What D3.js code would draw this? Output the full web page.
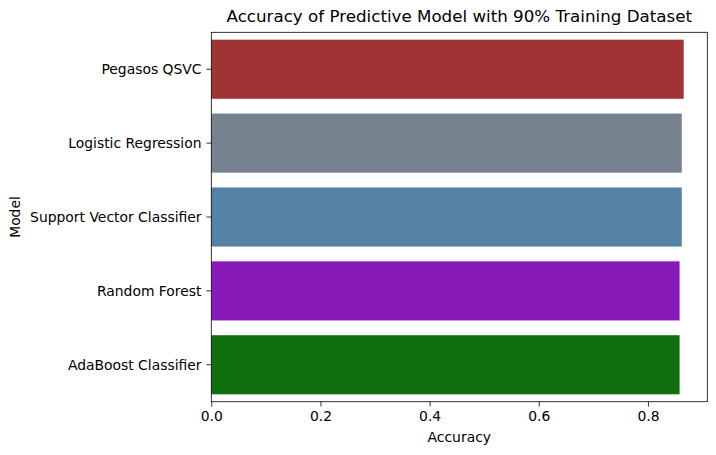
<!DOCTYPE html>
<html><head><meta charset="utf-8">
<script src="https://cdn.jsdelivr.net/npm/d3@7"></script>
<style>body{margin:0;background:#fff}svg{display:block}text{font-family:"DejaVu Sans",sans-serif;fill:#000}</style>
</head><body>
<svg id="c" width="716" height="455"></svg>
<script>
const models = ["Pegasos QSVC","Logistic Regression","Support Vector Classifier","Random Forest","AdaBoost Classifier"];
const accuracy = [0.8655,0.862,0.862,0.858,0.858];
const colors = ["#a03434","#76828e","#5481a6","#891ab9","#107010"];
const xTicks = [0,0.2,0.4,0.6,0.8];

const svg = d3.select("#c");
const m = {l:211.3, r:707.3, t:32.3, b:401.7};
const x = d3.scaleLinear().domain([0, d3.max(accuracy)*1.05]).range([m.l, m.r]);
const y = d3.scaleBand().domain(models).range([m.t, m.b]).paddingInner(0.2).paddingOuter(0.1);

svg.selectAll("rect.bar").data(models).enter().append("rect")
  .attr("class","bar")
  .attr("x", x(0)).attr("y", d=>y(d))
  .attr("width", (d,i)=>x(accuracy[i])-x(0))
  .attr("height", y.bandwidth())
  .attr("fill", (d,i)=>colors[i]);

const xa = svg.append("g").attr("transform",`translate(0,${m.b})`)
  .call(d3.axisBottom(x).tickValues(xTicks).tickFormat(d3.format(".1f")).tickSize(4.9).tickPadding(4.2));
const ya = svg.append("g").attr("transform",`translate(${m.l},0)`)
  .call(d3.axisLeft(y).tickSize(4.9).tickPadding(4.9));
[xa,ya].forEach(a=>{
  a.select(".domain").remove();
  a.selectAll("line").attr("stroke","#000").attr("stroke-width",0.8);
  a.selectAll("text").attr("font-size","13.9px").attr("font-family","DejaVu Sans").attr("fill","#000");
});
ya.selectAll("text").attr("dy","0.36em");
svg.append("rect").attr("x",m.l).attr("y",m.t).attr("width",m.r-m.l).attr("height",m.b-m.t)
  .attr("fill","none").attr("stroke","#000").attr("stroke-width",0.8);

svg.append("text").attr("x",(m.l+m.r)/2).attr("y",22).attr("text-anchor","middle")
  .attr("font-size","16.7px").text("Accuracy of Predictive Model with 90% Training Dataset");
svg.append("text").attr("x",(m.l+m.r)/2).attr("y",442).attr("text-anchor","middle")
  .attr("font-size","13.9px").text("Accuracy");
svg.append("text").attr("transform",`translate(20,${(m.t+m.b)/2}) rotate(-90)`).attr("text-anchor","middle")
  .attr("font-size","13.9px").text("Model");
</script>
</body></html>
